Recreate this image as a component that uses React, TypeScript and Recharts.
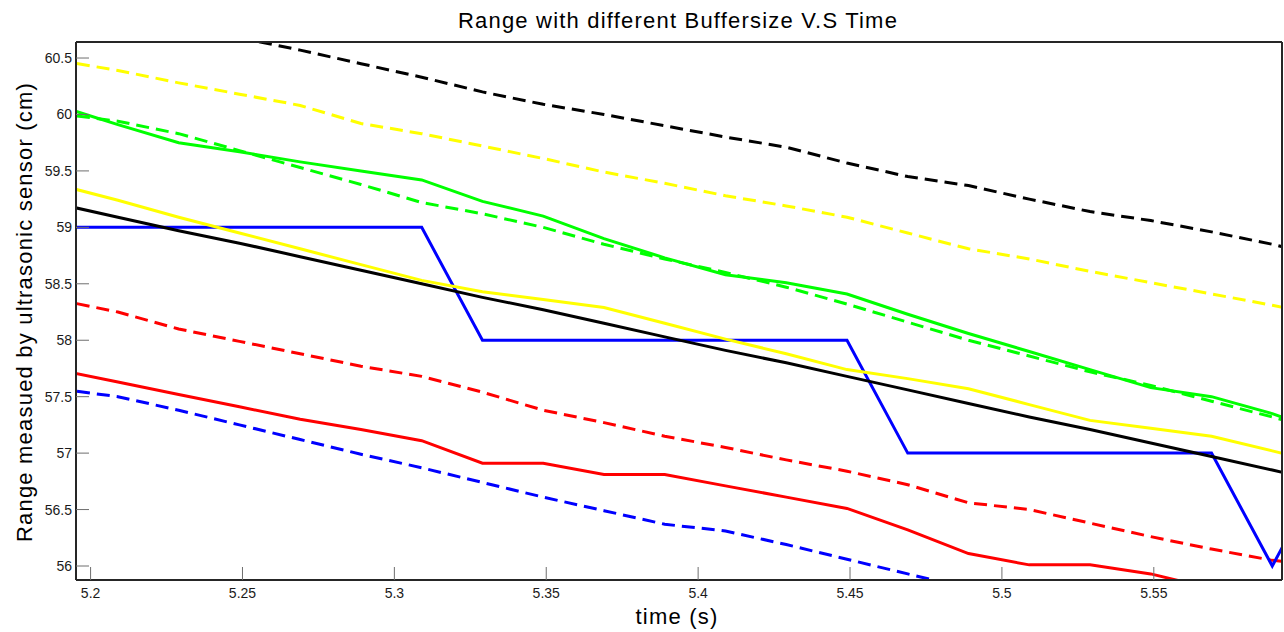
import React from "react";
import { LineChart, Line, XAxis, YAxis } from "recharts";

// sample times (s)
const times = [
  5.189, 5.209, 5.229, 5.249, 5.269, 5.289, 5.309, 5.329, 5.349, 5.369, 5.389,
  5.409, 5.429, 5.449, 5.469, 5.489, 5.509, 5.529, 5.549, 5.569, 5.589, 5.609,
];

// range readings (cm), one list per buffer size
const blackDashed = [
  null, null, null, 60.68, 60.57, 60.45, 60.33, 60.2, 60.09, 60.0, 59.9,
  59.8, 59.71, 59.57, 59.45, 59.37, 59.25, 59.14, 59.06, 58.96, 58.85, 58.72,
];
const yellowDashed = [
  60.48, 60.39, 60.28, 60.18, 60.08, 59.92, 59.83, 59.72, 59.61, 59.49, 59.39,
  59.28, 59.19, 59.09, 58.95, 58.81, 58.72, 58.61, 58.51, 58.41, 58.31, 58.2,
];
const greenSolid = [
  60.08, 59.91, 59.75, 59.67, 59.58, 59.5, 59.42, 59.23, 59.1, 58.9, 58.73,
  58.58, 58.51, 58.41, 58.23, 58.06, 57.9, 57.74, 57.58, 57.5, 57.35, 57.16,
];
const greenDashed = [
  60.01, 59.94, 59.83, 59.68, 59.53, 59.38, 59.22, 59.12, 59.0, 58.85, 58.72,
  58.6, 58.47, 58.32, 58.16, 58.0, 57.86, 57.72, 57.6, 57.46, 57.32, 57.17,
];
const yellowSolid = [
  59.38, 59.24, 59.09, 58.95, 58.81, 58.67, 58.53, 58.43, 58.36, 58.29, 58.15,
  58.01, 57.88, 57.74, 57.66, 57.57, 57.43, 57.29, 57.22, 57.15, 57.02, 56.89,
];
const blackSolid = [
  59.21, 59.09, 58.97, 58.86, 58.74, 58.62, 58.5, 58.38, 58.27, 58.15, 58.03,
  57.91, 57.8, 57.68, 57.56, 57.44, 57.32, 57.21, 57.09, 56.97, 56.85, 56.73,
];
const blueSolid = [
  59, 59, 59, 59, 59, 59, 59, 58, 58, 58, 58,
  58, 58, 58, 57, 57, 57, 57, 57, 57, 56, 57,
];
const redDashed = [
  58.36, 58.25, 58.1, 57.99, 57.88, 57.77, 57.68, 57.54, 57.38, 57.27, 57.15,
  57.05, 56.94, 56.84, 56.72, 56.56, 56.5, 56.38, 56.26, 56.15, 56.05, 56.0,
];
const redSolid = [
  57.74, 57.63, 57.52, 57.41, 57.3, 57.21, 57.11, 56.91, 56.91, 56.81, 56.81,
  56.71, 56.61, 56.51, 56.32, 56.11, 56.01, 56.01, 55.93, 55.8, null, null,
];
const blueDashed = [
  57.57, 57.5, 57.38, 57.25, 57.12, 56.99, 56.87, 56.74, 56.61, 56.49, 56.37,
  56.31, 56.19, 56.06, 55.93, 55.8, null, null, null, null, null, null,
];

const xTicks = [5.2, 5.25, 5.3, 5.35, 5.4, 5.45, 5.5, 5.55];
const yTicks = [56, 56.5, 57, 57.5, 58, 58.5, 59, 59.5, 60, 60.5];

const FONT = "'Liberation Sans', Arial, Helvetica, sans-serif";
const AXIS = "#262626";
const TICK = "#6e6e6e";
const DASH = "13 7";

const data = times.map((t, i) => ({
  t,
  blackDashed: blackDashed[i],
  yellowDashed: yellowDashed[i],
  greenSolid: greenSolid[i],
  greenDashed: greenDashed[i],
  yellowSolid: yellowSolid[i],
  blackSolid: blackSolid[i],
  blueSolid: blueSolid[i],
  redDashed: redDashed[i],
  redSolid: redSolid[i],
  blueDashed: blueDashed[i],
}));

const series = [
  { key: "blackDashed", color: "#000000", dashed: true },
  { key: "yellowDashed", color: "#ffff00", dashed: true },
  { key: "greenDashed", color: "#00ff00", dashed: true },
  { key: "redDashed", color: "#ff0000", dashed: true },
  { key: "blueDashed", color: "#0000ff", dashed: true },
  { key: "greenSolid", color: "#00ff00", dashed: false },
  { key: "redSolid", color: "#ff0000", dashed: false },
  { key: "blueSolid", color: "#0000ff", dashed: false },
  { key: "blackSolid", color: "#000000", dashed: false },
  { key: "yellowSolid", color: "#ffff00", dashed: false },
];

const tickFont = { fontFamily: FONT, fontSize: 14, fill: "#1a1a1a" };
const labelStyle = {
  fontFamily: FONT,
  fontSize: 22,
  letterSpacing: 1.2,
  fill: "#000",
};

export default function App() {
  return (
    <div style={{ position: "absolute", left: 0, top: 0, background: "#fff" }}>
      <LineChart
        width={1284}
        height={632}
        data={data}
        margin={{ top: 41, right: 1, bottom: 0, left: 0 }}
      >
        <XAxis
          dataKey="t"
          type="number"
          domain={[5.1952, 5.5922]}
          allowDataOverflow
          ticks={xTicks}
          interval={0}
          height={52}
          tickSize={-13}
          tickMargin={21}
          tick={tickFont}
          axisLine={{ stroke: AXIS, strokeWidth: 2 }}
          tickLine={{ stroke: TICK }}
          label={() => (
            <text x={677} y={624} textAnchor="middle" style={labelStyle}>
              time (s)
            </text>
          )}
        />
        <XAxis
          xAxisId="top"
          orientation="top"
          dataKey="t"
          type="number"
          domain={[5.1952, 5.5922]}
          allowDataOverflow
          ticks={xTicks}
          interval={0}
          height={1}
          tickSize={-11}
          tick={false}
          axisLine={{ stroke: AXIS, strokeWidth: 2 }}
          tickLine={{ stroke: TICK }}
          label={() => (
            <text x={678} y={28} textAnchor="middle" style={labelStyle}>
              Range with different Buffersize V.S Time
            </text>
          )}
        />
        <YAxis
          type="number"
          domain={[55.876, 60.642]}
          allowDataOverflow
          ticks={yTicks}
          interval={0}
          width={76}
          tickSize={-13}
          tickMargin={17}
          tick={tickFont}
          axisLine={{ stroke: AXIS, strokeWidth: 2 }}
          tickLine={{ stroke: TICK }}
          label={() => (
            <text
              x={32}
              y={312}
              transform="rotate(-90 32 312)"
              textAnchor="middle"
              style={labelStyle}
            >
              Range measued by ultrasonic sensor (cm)
            </text>
          )}
        />
        <YAxis
          yAxisId="right"
          orientation="right"
          type="number"
          domain={[55.876, 60.642]}
          allowDataOverflow
          ticks={yTicks}
          interval={0}
          width={1}
          tickSize={-12}
          tick={false}
          axisLine={{ stroke: AXIS, strokeWidth: 2 }}
          tickLine={{ stroke: TICK }}
        />
        {series.map((s) => (
          <Line
            key={s.key}
            dataKey={s.key}
            type="linear"
            stroke={s.color}
            strokeWidth={3}
            strokeDasharray={s.dashed ? DASH : undefined}
            dot={false}
            activeDot={false}
            isAnimationActive={false}
          />
        ))}
      </LineChart>
    </div>
  );
}
